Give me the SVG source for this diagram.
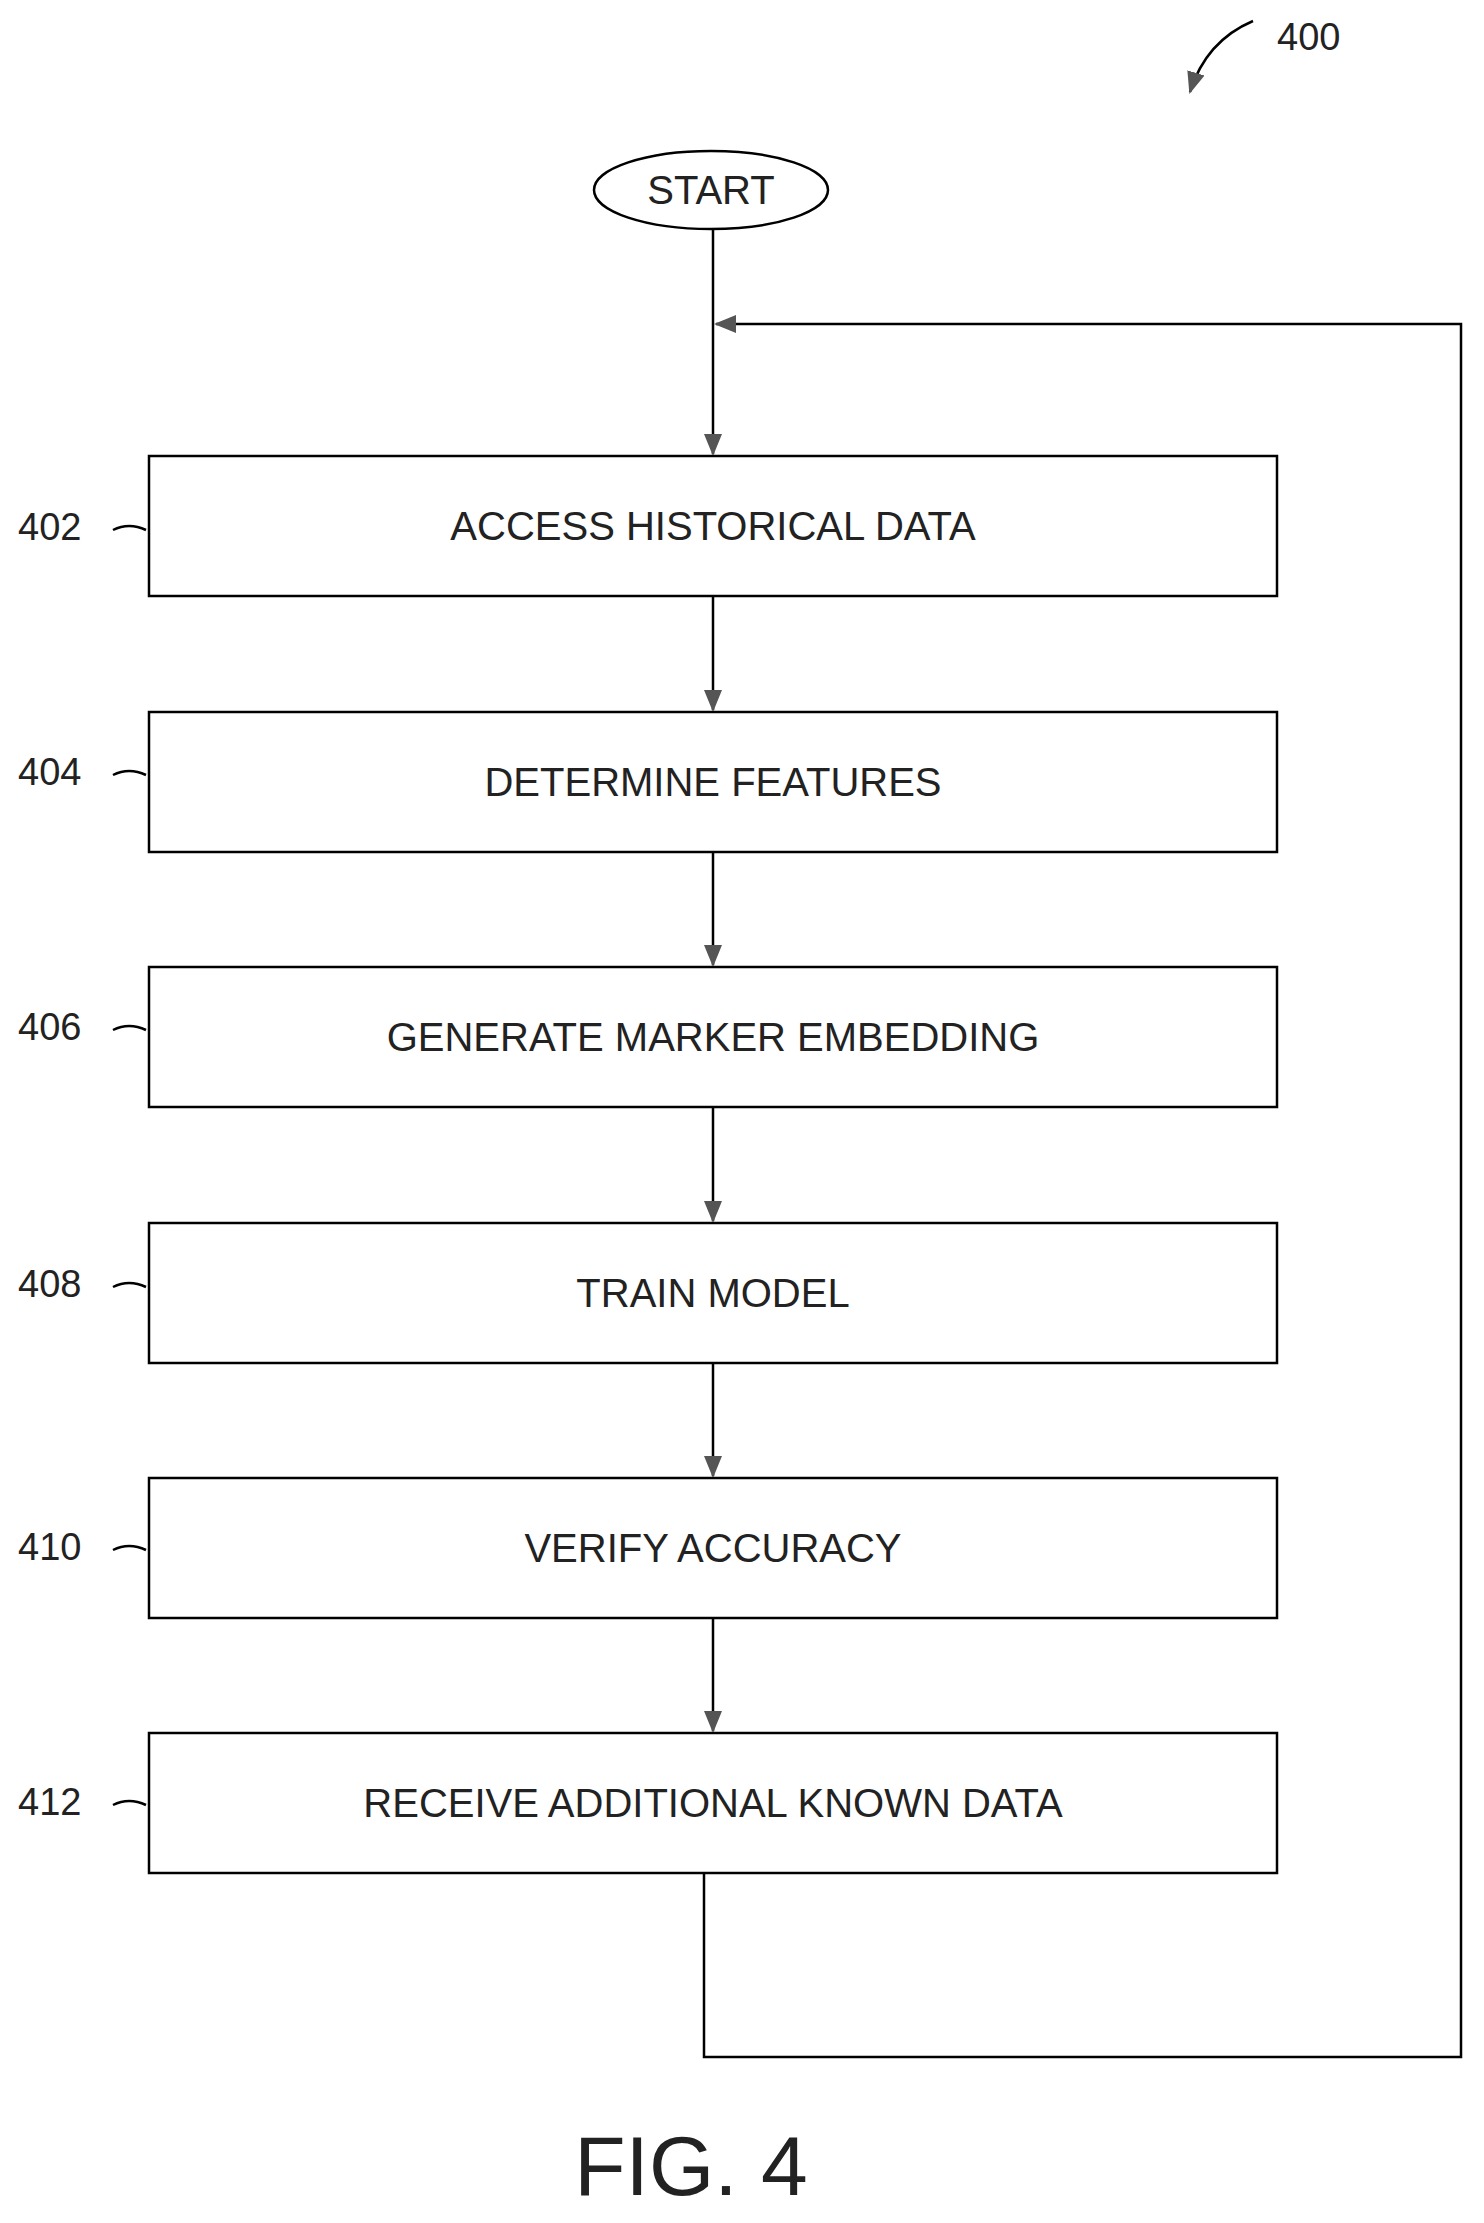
<svg xmlns="http://www.w3.org/2000/svg" width="1484" height="2223" viewBox="0 0 1484 2223">
<style>
.b{fill:#fff;stroke:#000;stroke-width:2.5}
.t{font-family:"Liberation Sans",Arial,sans-serif;font-size:40px;text-anchor:middle;fill:#222}
.r{font-family:"Liberation Sans",Arial,sans-serif;font-size:38px;fill:#222}
.c{fill:none;stroke:#000;stroke-width:2.5}
</style>
<defs><marker id="a" markerWidth="10" markerHeight="10" refX="9" refY="5" orient="auto" markerUnits="userSpaceOnUse" viewBox="0 0 10 10"><path d="M0,0 L10,5 L0,10 z" fill="#333"/></marker>
<marker id="m" markerWidth="22" markerHeight="22" refX="20" refY="11" orient="auto" markerUnits="userSpaceOnUse"><path d="M0,2 L22,11 L0,20 z" fill="#555"/></marker></defs>
<g id="connectors">
<line class="c" x1="713" y1="230" x2="713" y2="454" marker-end="url(#m)"/>
<polyline class="c" points="704,1873 704,2057 1461,2057 1461,324 716,324" marker-end="url(#m)"/>
<line class="c" x1="713" y1="596" x2="713" y2="710" marker-end="url(#m)"/>
<line class="c" x1="713" y1="852" x2="713" y2="965" marker-end="url(#m)"/>
<line class="c" x1="713" y1="1107" x2="713" y2="1221" marker-end="url(#m)"/>
<line class="c" x1="713" y1="1363" x2="713" y2="1476" marker-end="url(#m)"/>
<line class="c" x1="713" y1="1618" x2="713" y2="1731" marker-end="url(#m)"/>
<path class="c" d="M1253,21 C1220,35 1200,60 1190,92" marker-end="url(#m)"/>
</g>
<text class="r" x="1277" y="50">400</text>
<g id="start"><ellipse class="b" cx="711" cy="190" rx="117" ry="39"/><text class="t" x="711" y="204">START</text></g>
<g id="n402"><rect class="b" x="149" y="456" width="1128" height="140"/><text class="t" x="713" y="540">ACCESS HISTORICAL DATA</text><text class="r" x="18" y="540">402</text><path class="c" d="M113,530 q16,-8 33,0"/></g>
<g id="n404"><rect class="b" x="149" y="712" width="1128" height="140"/><text class="t" x="713" y="796">DETERMINE FEATURES</text><text class="r" x="18" y="785">404</text><path class="c" d="M113,775 q16,-8 33,0"/></g>
<g id="n406"><rect class="b" x="149" y="967" width="1128" height="140"/><text class="t" x="713" y="1051">GENERATE MARKER EMBEDDING</text><text class="r" x="18" y="1040">406</text><path class="c" d="M113,1030 q16,-8 33,0"/></g>
<g id="n408"><rect class="b" x="149" y="1223" width="1128" height="140"/><text class="t" x="713" y="1307">TRAIN MODEL</text><text class="r" x="18" y="1297">408</text><path class="c" d="M113,1287 q16,-8 33,0"/></g>
<g id="n410"><rect class="b" x="149" y="1478" width="1128" height="140"/><text class="t" x="713" y="1562">VERIFY ACCURACY</text><text class="r" x="18" y="1560">410</text><path class="c" d="M113,1550 q16,-8 33,0"/></g>
<g id="n412"><rect class="b" x="149" y="1733" width="1128" height="140"/><text class="t" x="713" y="1817">RECEIVE ADDITIONAL KNOWN DATA</text><text class="r" x="18" y="1815">412</text><path class="c" d="M113,1805 q16,-8 33,0"/></g>
<text x="691" y="2195" style="font-family:'Liberation Sans',Arial,sans-serif;font-size:84px;text-anchor:middle;fill:#222">FIG. 4</text>
</svg>
